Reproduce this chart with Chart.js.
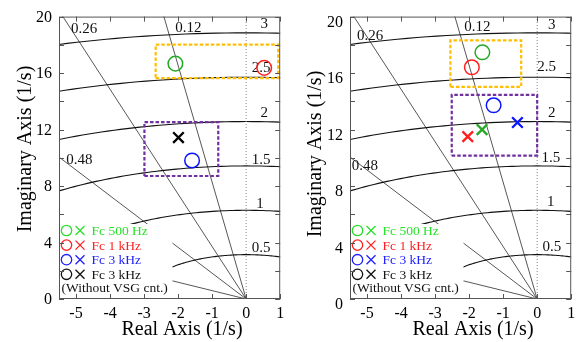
<!DOCTYPE html>
<html>
<head>
<meta charset="utf-8">
<script src="https://cdn.jsdelivr.net/npm/chart.js@4.4.1/dist/chart.umd.min.js"></script>
<style>
  body { margin: 0; background: #fff; }
  .panel { position: absolute; top: 0; height: 342px; }
</style>
</head>
<body>
<div class="panel" style="left:0;width:290px"><canvas id="leftChart" width="290" height="342"></canvas></div>
<div class="panel" style="left:290px;width:291px"><canvas id="rightChart" width="291" height="342"></canvas></div>
<script>
/* ===== DATA ===== */
const xTicks = [-5, -4, -3, -2, -1, 0, 1];
const yTicks = [0, 2, 4, 6, 8, 10, 12, 14, 16, 18, 20];
const yLabels = [0, 4, 8, 12, 16, 20];

// s-plane grid: natural freq (Hz) arcs and damping ratio lines
const freqHz = [0.5, 1, 1.5, 2, 2.5, 3];
const zetas = [0.12, 0.26, 0.48, 0.86];

const seriesNames = ["Fc 500 Hz", "Fc 1 kHz", "Fc 3 kHz", "Fc 3 kHz"];
const markColors = ["#22a822", "#ff1f1f", "#0a14ff", "#000000"];
const textColors = ["#2be02b", "#ff2020", "#2020ff", "#111111"];

// left panel poles (o = circles, x = crosses)
const leftCircleRe = [-2.08, 0.53, -1.59, null];
const leftCircleIm = [16.67, 16.37, 9.81, null];
const leftCrossRe = [null, null, null, -1.99];
const leftCrossIm = [null, null, null, 11.43];
const leftOrangeRe = [-2.66, 0.94];
const leftOrangeIm = [15.64, 18.02];
const leftPurpleRe = [-2.99, -0.82];
const leftPurpleIm = [8.71, 12.53];

// right panel poles
const rightCircleRe = [-1.61, -1.92, -1.28, null];
const rightCircleIm = [17.47, 16.41, 13.72, null];
const rightCrossRe = [-1.62, -2.04, -0.58, null];
const rightCrossIm = [12.0, 11.5, 12.5, null];
const rightOrangeRe = [-2.55, -0.47];
const rightOrangeIm = [15.03, 18.32];
const rightPurpleRe = [-2.51, 0.0];
const rightPurpleIm = [10.16, 14.46];

/* ===== GRID LABEL PLACEMENT ===== */
const leftGridText = [["0.26", -4.76, 19.1], ["0.12", -1.70, 19.17], ["0.48", -4.9, 9.86],
  ["3", 0.53, 19.45], ["2.5", 0.44, 16.34], ["2", 0.53, 13.17], ["1.5", 0.44, 9.86], ["1", 0.41, 6.69], ["0.5", 0.44, 3.59]];
const rightGridText = [["0.26", -4.91, 18.62], ["0.12", -1.76, 19.24], ["0.48", -5.06, 9.38],
  ["3", 0.43, 19.38], ["2.5", 0.28, 16.41], ["2", 0.43, 13.17], ["1.5", 0.40, 10.0], ["1", 0.40, 6.9], ["0.5", 0.43, 3.66]];

const SERIF = "'Liberation Serif', 'Times New Roman', serif";

function boxPoints(re, im) {
    return [
        {x: re[0], y: im[0]}, {x: re[1], y: im[0]}, {x: re[1], y: im[1]},
        {x: re[0], y: im[1]}, {x: re[0], y: im[0]}
    ];
}

function pts(re, im) {
    return re.map((v, i) => v === null ? null : {x: v, y: im[i]}).filter(p => p);
}

function drawCircle(ctx, cx, cy, r) {
    ctx.beginPath();
    ctx.arc(cx, cy, r, 0, Math.PI * 2);
    ctx.stroke();
}

function drawCross(ctx, cx, cy, r) {
    ctx.beginPath();
    ctx.moveTo(cx - r, cy - r); ctx.lineTo(cx + r, cy + r);
    ctx.moveTo(cx + r, cy - r); ctx.lineTo(cx - r, cy + r);
    ctx.stroke();
}

function makeGridPlugin(panel) {
    return {
        id: "sgrid",
        beforeDatasetsDraw(chart) {
            const {ctx, chartArea: a, scales: {x, y}} = chart;
            ctx.save();
            ctx.beginPath();
            ctx.rect(a.left, a.top, a.right - a.left, a.bottom - a.top);
            ctx.clip();

            // damping lines
            ctx.strokeStyle = "#444";
            ctx.lineWidth = 0.9;
            zetas.forEach(z => {
                const R = 60;
                ctx.beginPath();
                ctx.moveTo(x.getPixelForValue(0), y.getPixelForValue(0));
                ctx.lineTo(x.getPixelForValue(-z * R), y.getPixelForValue(Math.sqrt(1 - z * z) * R));
                ctx.stroke();
            });

            // frequency arcs
            ctx.strokeStyle = "#111";
            ctx.lineWidth = 1.1;
            freqHz.forEach(f => {
                const r = 2 * Math.PI * f;
                ctx.beginPath();
                for (let k = 0; k <= 200; k++) {
                    const th = k * Math.PI / 200;
                    const px = x.getPixelForValue(r * Math.cos(th));
                    const py = y.getPixelForValue(r * Math.sin(th));
                    if (k === 0) ctx.moveTo(px, py); else ctx.lineTo(px, py);
                }
                ctx.stroke();
            });

            // imaginary axis
            ctx.strokeStyle = "#888";
            ctx.lineWidth = 1;
            ctx.setLineDash([1, 2]);
            ctx.beginPath();
            ctx.moveTo(x.getPixelForValue(0), a.bottom);
            ctx.lineTo(x.getPixelForValue(0), a.top);
            ctx.stroke();
            ctx.setLineDash([]);
            ctx.restore();

            // grid labels
            ctx.save();
            ctx.fillStyle = "#111";
            ctx.font = "15px " + SERIF;
            ctx.textAlign = "center";
            ctx.textBaseline = "middle";
            panel.gridText.forEach(t => {
                ctx.fillText(t[0], x.getPixelForValue(t[1]), y.getPixelForValue(t[2]));
            });

            // legend block (white, covers grid)
            ctx.fillStyle = "#fff";
            ctx.fillRect(a.left + 0.5, a.bottom - 75, 113, 74.5);
            ctx.font = "13.5px " + SERIF;
            ctx.textAlign = "left";
            const row0 = a.bottom - 68.5;
            seriesNames.forEach((name, i) => {
                const cy = row0 + i * 14.6;
                ctx.strokeStyle = textColors[i];
                ctx.lineWidth = 1.3;
                drawCircle(ctx, a.left + 7.5, cy, 5.2);
                drawCross(ctx, a.left + 21, cy, 4.5);
                ctx.fillStyle = textColors[i];
                ctx.fillText(name, a.left + 32.5, cy + 1);
            });
            ctx.fillStyle = "#111";
            ctx.fillText("(Without VSG cnt.)", a.left + 2.5, row0 + 4 * 14.6);
            ctx.restore();
        },
        afterDraw(chart) {
            const {ctx, chartArea: a, scales: {x, y}} = chart;
            ctx.save();
            // frame
            ctx.strokeStyle = "#555";
            ctx.lineWidth = 1;
            ctx.strokeRect(a.left + 0.5, a.top + 0.5, a.right - a.left - 1, a.bottom - a.top - 1);
            // inward ticks
            ctx.beginPath();
            xTicks.forEach(v => {
                const px = Math.round(x.getPixelForValue(v)) + 0.5;
                ctx.moveTo(px, a.bottom); ctx.lineTo(px, a.bottom - 5);
                ctx.moveTo(px, a.top); ctx.lineTo(px, a.top + 5);
            });
            yTicks.forEach(v => {
                const py = Math.round(y.getPixelForValue(v)) + 0.5;
                ctx.moveTo(a.left, py); ctx.lineTo(a.left + 5, py);
                ctx.moveTo(a.right, py); ctx.lineTo(a.right - 5, py);
            });
            ctx.stroke();

            // axis titles
            ctx.fillStyle = "#000";
            ctx.font = "20px " + SERIF;
            ctx.textAlign = "center";
            ctx.textBaseline = "middle";
            ctx.fillText("Real Axis (1/s)", panel.xTitle[0], panel.xTitle[1]);
            ctx.translate(panel.yTitle[0], panel.yTitle[1]);
            ctx.rotate(-Math.PI / 2);
            ctx.fillText("Imaginary Axis (1/s)", 0, 0);
            ctx.restore();
        }
    };
}

function makePanel(canvasId, panel) {
    const ctx = document.getElementById(canvasId).getContext("2d");
    const datasets = [
        {
            data: boxPoints(panel.orangeRe, panel.orangeIm),
            showLine: true, borderColor: "#ffbf00", borderWidth: 2.2,
            borderDash: [3.5, 2], pointRadius: 0, fill: false
        },
        {
            data: boxPoints(panel.purpleRe, panel.purpleIm),
            showLine: true, borderColor: "#7030a0", borderWidth: 2.2,
            borderDash: [3.5, 2], pointRadius: 0, fill: false
        }
    ];
    seriesNames.forEach((name, i) => {
        datasets.push({
            data: pts([panel.circleRe[i]], [panel.circleIm[i]]),
            pointStyle: "circle", pointRadius: 7.3, borderWidth: 1.5,
            borderColor: markColors[i], backgroundColor: "rgba(0,0,0,0)"
        });
        datasets.push({
            data: pts([panel.crossRe[i]], [panel.crossIm[i]]),
            pointStyle: "crossRot", pointRadius: 7.5, borderWidth: 2.3,
            borderColor: markColors[i], backgroundColor: markColors[i]
        });
    });

    new Chart(ctx, {
        type: "scatter",
        data: {datasets},
        options: {
            responsive: false,
            animation: false,
            events: [],
            layout: {padding: {top: 9, right: panel.padRight, left: 0, bottom: 0}},
            plugins: {legend: {display: false}, tooltip: {enabled: false}},
            scales: {
                x: {
                    min: -5.5, max: 1,
                    grid: {display: false, drawTicks: false, tickLength: 0},
                    border: {display: false},
                    afterFit: s => { s.height = 43; },
                    afterBuildTicks: s => { s.ticks = xTicks.map(v => ({value: v})); },
                    ticks: {color: "#000", padding: 5, font: {family: SERIF, size: 16}}
                },
                y: {
                    min: 0, max: 20,
                    grid: {display: false, drawTicks: false, tickLength: 0},
                    border: {display: false},
                    afterFit: s => { s.width = panel.yWidth; },
                    afterBuildTicks: s => { s.ticks = yTicks.map(v => ({value: v})); },
                    ticks: {
                        color: "#000", padding: 7, labelOffset: panel.yLabelOffset,
                        font: {family: SERIF, size: 16},
                        callback: v => yLabels.includes(v) ? String(v) : ""
                    }
                }
            }
        },
        plugins: [makeGridPlugin(panel)]
    });
}

makePanel("leftChart", {
    circleRe: leftCircleRe, circleIm: leftCircleIm,
    crossRe: leftCrossRe, crossIm: leftCrossIm,
    orangeRe: leftOrangeRe, orangeIm: leftOrangeIm,
    purpleRe: leftPurpleRe, purpleIm: leftPurpleIm,
    gridText: leftGridText,
    yWidth: 59, padRight: 3, yLabelOffset: 1,
    xTitle: [182, 330], yTitle: [26, 149]
});

makePanel("rightChart", {
    circleRe: rightCircleRe, circleIm: rightCircleIm,
    crossRe: rightCrossRe, crossIm: rightCrossIm,
    orangeRe: rightOrangeRe, orangeIm: rightOrangeIm,
    purpleRe: rightPurpleRe, purpleIm: rightPurpleIm,
    gridText: rightGridText,
    yWidth: 60, padRight: 8, yLabelOffset: 6,
    xTitle: [183, 330], yTitle: [26, 154]
});
</script>
</body>
</html>
